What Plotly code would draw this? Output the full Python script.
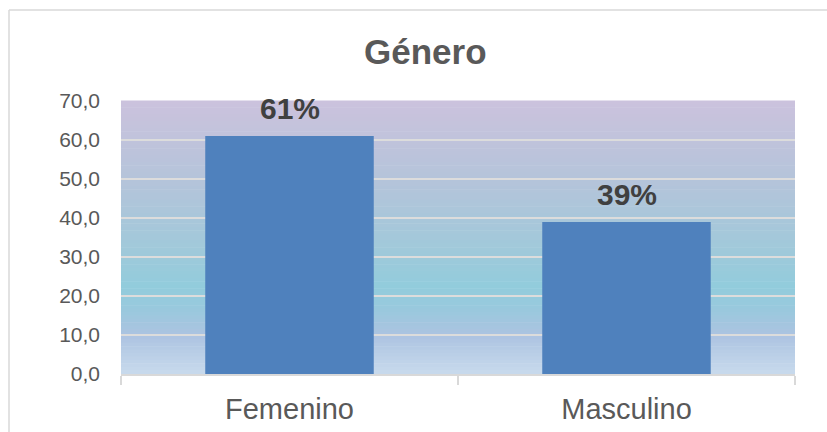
import plotly.graph_objects as go

# -- Data ---------------------------------------------------------------------
categories = ["Femenino", "Masculino"]
values = [61, 39]
bar_labels = [f"{v:.0f}%" for v in values]
title_text = "Género"

W, H = 827, 432
FONT = "Liberation Sans, Arial, sans-serif"

px_left, px_right, px_top, px_bottom = 121, 795, 101, 374

# gradient stops for the plot-area fill (fraction from top, colour)
grad_stops = [
    (0.00, (203, 194, 221)),
    (0.30, (180, 196, 218)),
    (0.55, (160, 201, 218)),
    (0.68, (146, 204, 220)),
    (0.76, (152, 201, 221)),
    (0.86, (172, 195, 225)),
    (1.00, (200, 218, 237)),
]


def grad_color(t):
    for (t0, c0), (t1, c1) in zip(grad_stops[:-1], grad_stops[1:]):
        if t0 <= t <= t1:
            f = (t - t0) / (t1 - t0) if t1 > t0 else 0
            r, g, b = (round(a + (b_ - a) * f) for a, b_ in zip(c0, c1))
            return f"rgb({r},{g},{b})"
    return "rgb(%d,%d,%d)" % grad_stops[-1][1]


shapes = []
n_strips = 80
for i in range(n_strips):
    t = (i + 0.5) / n_strips
    shapes.append(
        dict(
            type="rect",
            xref="x domain",
            yref="y domain",
            x0=0,
            x1=1,
            y0=1 - (i + 1) / n_strips,
            y1=1 - i / n_strips + 0.002,
            fillcolor=grad_color(t),
            line=dict(width=0),
            layer="below",
        )
    )

# outer chart border (top and left edges visible)
bx, by = 9 / W, 1 - 10 / H
shapes.append(dict(type="line", xref="paper", yref="paper", x0=bx, x1=1.01, y0=by, y1=by,
                   line=dict(color="#D9D9D9", width=1.5)))
shapes.append(dict(type="line", xref="paper", yref="paper", x0=bx, x1=bx, y0=by, y1=-0.01,
                   line=dict(color="#D9D9D9", width=1.5)))

fig = go.Figure()
fig.add_trace(
    go.Bar(
        x=categories,
        y=values,
        width=0.5,
        marker=dict(color="#4F81BD", line=dict(width=0)),
        hoverinfo="skip",
    )
)

annotations = [
    dict(
        x=c,
        y=v,
        xref="x",
        yref="y",
        text=f"<b>{lbl}</b>",
        showarrow=False,
        yanchor="bottom",
        yshift=9,
        font=dict(family=FONT, size=30, color="#404040"),
    )
    for c, v, lbl in zip(categories, values, bar_labels)
]
annotations.append(
    dict(
        x=425 / W,
        y=1 - 52 / H,
        xref="paper",
        yref="paper",
        text=f"<b>{title_text}</b>",
        showarrow=False,
        xanchor="center",
        yanchor="middle",
        font=dict(family=FONT, size=35, color="#595959"),
    )
)

fig.update_layout(
    width=W,
    height=H,
    margin=dict(l=0, r=0, t=0, b=0, autoexpand=False),
    paper_bgcolor="white",
    plot_bgcolor="rgba(0,0,0,0)",
    separators=",.",
    showlegend=False,
    shapes=shapes,
    annotations=annotations,
    xaxis=dict(
        domain=[px_left / W, px_right / W],
        automargin=False,
        showline=True,
        linecolor="#D9D9D9",
        linewidth=1.5,
        ticks="outside",
        tickson="boundaries",
        ticklen=9,
        tickcolor="#D9D9D9",
        tickwidth=1.5,
        ticklabelstandoff=8,
        showgrid=False,
        tickfont=dict(family=FONT, size=29, color="#595959"),
        fixedrange=True,
    ),
    yaxis=dict(
        domain=[1 - px_bottom / H, 1 - px_top / H],
        automargin=False,
        range=[0, 70],
        dtick=10,
        tickformat=".1f",
        showline=False,
        showgrid=True,
        gridcolor="#DCDCDC",
        gridwidth=1.5,
        zeroline=False,
        ticks="",
        ticklabelstandoff=20,
        tickfont=dict(family=FONT, size=21, color="#595959"),
        fixedrange=True,
    ),
)

fig.write_html(
    "out.html",
    config={"displayModeBar": False},
    post_script="document.body.style.margin='0px';",
)
